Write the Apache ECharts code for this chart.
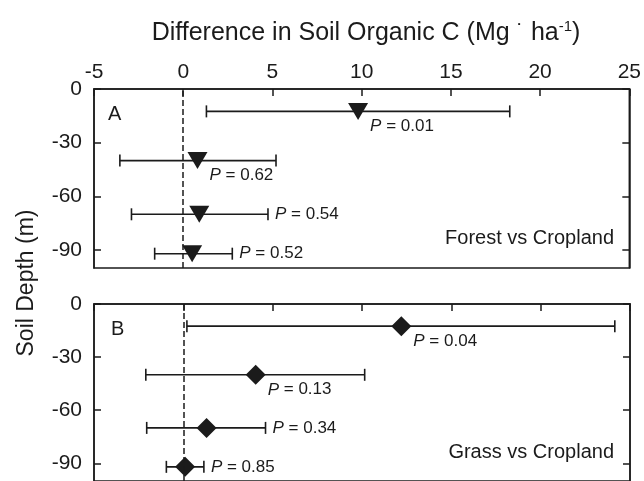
<!DOCTYPE html>
<html>
<head>
<meta charset="utf-8">
<script src="https://cdn.jsdelivr.net/npm/echarts@6/dist/echarts.min.js"></script>
<style>
  html, body { margin: 0; padding: 0; background: #fff; }
  #chart { width: 644px; height: 481px; }
</style>
</head>
<body>
<div id="chart"></div>
<script>
// soil layers (m) and the y ticks
const depths = [-12.5, -40, -70, -92];
const yTicks = [0, -30, -60, -90];

// A: forest vs cropland
const forestMean = [9.8, 0.8, 0.9, 0.5];
const forestLow = [1.3, -3.55, -2.9, -1.6];
const forestHigh = [18.3, 5.2, 4.75, 2.75];
const forestP = ['0.01', '0.62', '0.54', '0.52'];

// B: grass vs cropland
const grassMean = [12.2, 4.05, 1.3, 0.1];
const grassLow = [0.2, -2.1, -2.05, -0.95];
const grassHigh = [24.15, 10.15, 4.6, 1.15];
const grassP = ['0.04', '0.13', '0.34', '0.85'];

const ink = '#1b1b1b';
const font = 'Liberation Sans, Arial, sans-serif';

const chart = echarts.init(document.getElementById('chart'), null, { renderer: 'canvas' });

const xAxisFor = (gi, labels) => ({
  type: 'value', gridIndex: gi, position: 'top',
  min: -5, max: 25, interval: 5,
  axisLine: { show: true, lineStyle: { color: ink, width: 1.5 } },
  axisTick: { show: true, inside: true, length: 7, lineStyle: { color: ink, width: 1.5 } },
  axisLabel: { show: labels, color: ink, fontSize: 21, fontFamily: font, margin: 6 },
  splitLine: { show: false }
});

const yAxisFor = (gi, pos, labels) => ({
  type: 'value', gridIndex: gi, position: pos,
  min: -100, max: 0,
  axisLine: { show: true, onZero: false, lineStyle: { color: ink, width: 1.5 } },
  axisTick: { show: true, inside: true, length: 7, customValues: yTicks, lineStyle: { color: ink, width: 1.5 } },
  axisLabel: { show: labels, customValues: yTicks, color: ink, fontSize: 21, fontFamily: font, margin: 12 },
  splitLine: { show: false }
});

function barData(mean, low, high, p) {
  return depths.map((d, i) => [low[i], high[i], d, mean[i], p[i], i]);
}

function renderBar(params, api) {
  const y = api.value(2);
  const lo = api.coord([api.value(0), y]);
  const hi = api.coord([api.value(1), y]);
  const m = api.coord([api.value(3), y]);
  const idx = api.value(5);
  const cap = 6;
  const ls = { stroke: ink, lineWidth: 1.6 };
  // first two labels sit below right of the marker, the rest after the whisker
  const tx = idx < 2 ? m[0] + 12 : hi[0] + 7;
  const ty = idx < 2 ? m[1] + 15 : hi[1];
  return {
    type: 'group',
    children: [
      { type: 'line', shape: { x1: lo[0], y1: lo[1], x2: hi[0], y2: hi[1] }, style: ls },
      { type: 'line', shape: { x1: lo[0], y1: lo[1] - cap, x2: lo[0], y2: lo[1] + cap }, style: ls },
      { type: 'line', shape: { x1: hi[0], y1: hi[1] - cap, x2: hi[0], y2: hi[1] + cap }, style: ls },
      {
        type: 'text', x: tx, y: ty,
        style: {
          text: '{i|P} = ' + api.value(4),
          fill: ink, font: '17px ' + font, verticalAlign: 'middle', align: 'left',
          rich: { i: { fontStyle: 'italic', fontSize: 17, fontFamily: font, fill: ink } }
        }
      }
    ]
  };
}

const zeroLine = {
  silent: true, symbol: ['none', 'none'], animation: false,
  label: { show: false },
  lineStyle: { color: ink, type: [6, 3], width: 1.5 },
  data: [{ xAxis: 0 }]
};

chart.setOption({
  animation: false,
  grid: [
    { left: 94, top: 89, width: 536, height: 179, show: true, borderColor: ink, borderWidth: 1.5 },
    { left: 94, top: 304, width: 536, height: 178, show: true, borderColor: ink, borderWidth: 1.5 }
  ],
  xAxis: [xAxisFor(0, true), xAxisFor(1, false)],
  yAxis: [yAxisFor(0, 'left', true), yAxisFor(0, 'right', false), yAxisFor(1, 'left', true), yAxisFor(1, 'right', false)],
  graphic: [
    { type: 'text', x: 366, y: 33, style: { text: 'Difference in Soil Organic C (Mg {s|˙} ha{u|-1})', font: '25px ' + font, fill: ink,
      align: 'center', verticalAlign: 'middle',
      rich: { s: { fontSize: 22, fontFamily: font }, u: { fontSize: 15, fontFamily: font, verticalAlign: 'top', padding: [0, 0, 12, 0] } } } },
    { type: 'text', x: 27, y: 283, rotation: Math.PI / 2, style: { text: 'Soil Depth (m)', font: '23px ' + font, fill: ink, align: 'center', verticalAlign: 'middle' } },
    { type: 'text', x: 108, y: 114, style: { text: 'A', font: '20px ' + font, fill: ink, verticalAlign: 'middle' } },
    { type: 'text', x: 614, y: 238, style: { text: 'Forest vs Cropland', font: '20px ' + font, fill: ink, align: 'right', verticalAlign: 'middle' } },
    { type: 'text', x: 111, y: 329, style: { text: 'B', font: '20px ' + font, fill: ink, verticalAlign: 'middle' } },
    { type: 'text', x: 614, y: 452, style: { text: 'Grass vs Cropland', font: '20px ' + font, fill: ink, align: 'right', verticalAlign: 'middle' } }
  ],
  series: [
    {
      type: 'custom', xAxisIndex: 0, yAxisIndex: 0, renderItem: renderBar,
      encode: { x: [0, 1, 3], y: 2 }, data: barData(forestMean, forestLow, forestHigh, forestP), z: 2
    },
    {
      type: 'scatter', xAxisIndex: 0, yAxisIndex: 0, symbol: 'triangle', symbolRotate: 180, symbolSize: [20, 17],
      itemStyle: { color: ink, opacity: 1 }, data: depths.map((d, i) => [forestMean[i], d]), z: 3,
      markLine: zeroLine
    },
    {
      type: 'custom', xAxisIndex: 1, yAxisIndex: 2, renderItem: renderBar,
      encode: { x: [0, 1, 3], y: 2 }, data: barData(grassMean, grassLow, grassHigh, grassP), z: 2
    },
    {
      type: 'scatter', xAxisIndex: 1, yAxisIndex: 2, symbol: 'diamond', symbolSize: [20, 20],
      itemStyle: { color: ink, opacity: 1 }, data: depths.map((d, i) => [grassMean[i], d]), z: 3,
      markLine: zeroLine
    }
  ]
});
</script>
</body>
</html>
